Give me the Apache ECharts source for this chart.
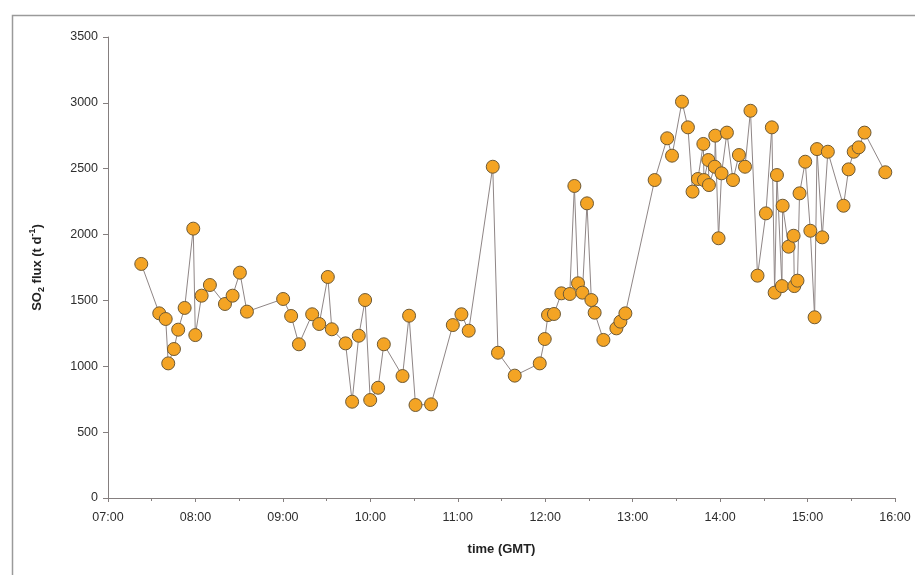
<!DOCTYPE html>
<html>
<head>
<meta charset="utf-8">
<script src="https://cdn.jsdelivr.net/npm/echarts@6/dist/echarts.min.js"></script>
<style>
  html, body { margin: 0; padding: 0; background: #fff; }
  #main { width: 915px; height: 575px; }
</style>
</head>
<body>
<div id="main"></div>
<script>
// measurement times (GMT) and SO2 flux (t/d)
var times = [
  '07:22:50', '07:35:10', '07:39:35', '07:41:20', '07:45:15', '07:48:10', '07:52:35', '07:58:30',
  '07:59:55', '08:04:15', '08:09:55', '08:20:15', '08:25:30', '08:30:30', '08:35:20', '09:00:10',
  '09:05:40', '09:11:00', '09:20:05', '09:24:55', '09:30:50', '09:33:35', '09:43:00', '09:47:30',
  '09:52:05', '09:56:25', '09:59:55', '10:05:20', '10:09:15', '10:22:05', '10:26:35', '10:31:00',
  '10:41:40', '10:56:35', '11:02:30', '11:07:30', '11:24:00', '11:27:35', '11:39:05', '11:56:15',
  '11:59:40', '12:01:55', '12:06:00', '12:11:05', '12:16:50', '12:20:00', '12:22:30', '12:25:30',
  '12:28:40', '12:31:40', '12:33:55', '12:39:55', '12:48:50', '12:51:35', '12:55:00', '13:15:05',
  '13:23:40', '13:27:00', '13:33:50', '13:37:55', '13:41:05', '13:44:45', '13:48:30', '13:48:55',
  '13:51:55', '13:52:20', '13:56:20', '13:56:40', '13:58:55', '14:01:00', '14:04:40', '14:08:50',
  '14:12:55', '14:17:05', '14:20:50', '14:25:40', '14:31:25', '14:35:30', '14:37:25', '14:39:00',
  '14:42:25', '14:42:55', '14:47:00', '14:50:25', '14:50:55', '14:53:05', '14:54:30', '14:58:25',
  '15:01:55', '15:04:50', '15:06:30', '15:10:05', '15:13:55', '15:24:40', '15:28:10', '15:31:40',
  '15:35:05', '15:39:05', '15:53:20'
];
var flux = [
  1777, 1402, 1359, 1022, 1131, 1278, 1443, 2045,
  1237, 1536, 1617, 1473, 1536, 1711, 1415, 1511,
  1382, 1167, 1395, 1321, 1678, 1281, 1174, 731,
  1232, 1503, 744, 837, 1167, 926, 1384, 706,
  711, 1313, 1395, 1270, 2515, 1103, 929, 1022,
  1207, 1389, 1397, 1554, 1549, 2369, 1630, 1559,
  2237, 1503, 1407, 1200, 1288, 1339, 1402, 2414,
  2731, 2599, 3009, 2814, 2326, 2422, 2688, 2414,
  2566, 2376, 2515, 2751, 1972, 2465, 2774, 2414,
  2604, 2515, 2940, 1688, 2161, 2814, 1559, 2452,
  1609, 2219, 1908, 1991, 1609, 1650, 2313, 2553,
  2029, 1372, 2649, 1979, 2629, 2219, 2495, 2629,
  2662, 2774, 2473
];

function toHours(s) {
  var p = s.split(':');
  return +p[0] + p[1] / 60 + p[2] / 3600;
}
function pad(n) { return (n < 10 ? '0' : '') + n; }

var points = times.map(function (t, i) { return [toHours(t), flux[i]]; });

var myChart = echarts.init(document.getElementById('main'));
var axisColor = '#857f7f';
var labelStyle = { color: '#2e2e2e', fontSize: 12.5, fontFamily: 'Liberation Sans' };

myChart.setOption({
    animation: false,
    backgroundColor: '#fff',
    graphic: [{
        type: 'rect',
        left: 10, top: 13,
        shape: { width: 915, height: 580 },
        style: { fill: 'none', stroke: '#9a9a9a', lineWidth: 1.5 }
    }],
    grid: { left: 108, right: 20, top: 37, bottom: 77 },
    xAxis: {
        type: 'value',
        min: 7, max: 16, interval: 1,
        name: 'time (GMT)',
        nameLocation: 'middle',
        nameGap: 45,
        nameTextStyle: { fontSize: 13, fontWeight: 'bold', color: '#222', fontFamily: 'Liberation Sans' },
        splitLine: { show: false },
        axisLine: { lineStyle: { color: axisColor, width: 1 } },
        axisTick: { length: 4, lineStyle: { color: axisColor } },
        minorTick: { show: true, splitNumber: 2, length: 3, lineStyle: { color: axisColor } },
        axisLabel: Object.assign({ margin: 13, formatter: function (v) { return pad(v) + ':00'; } }, labelStyle)
    },
    yAxis: {
        type: 'value',
        min: 0, max: 3500, interval: 500,
        name: '{a|SO}{s|2}{a| flux (t d}{u|-1}{a|)}',
        nameLocation: 'middle',
        nameGap: 62,
        nameRotate: 90,
        nameTextStyle: {
            rich: {
                a: { fontSize: 13, fontWeight: 'bold', color: '#222', fontFamily: 'Liberation Sans', lineHeight: 18, verticalAlign: 'middle' },
                s: { fontSize: 9, fontWeight: 'bold', color: '#222', fontFamily: 'Liberation Sans', lineHeight: 18, verticalAlign: 'bottom' },
                u: { fontSize: 9, fontWeight: 'bold', color: '#222', fontFamily: 'Liberation Sans', lineHeight: 18, verticalAlign: 'top' }
            }
        },
        splitLine: { show: false },
        axisLine: { show: true, lineStyle: { color: axisColor, width: 1 } },
        axisTick: { show: true, length: 5, lineStyle: { color: axisColor } },
        axisLabel: Object.assign({ margin: 10, formatter: function (v) { return String(v); } }, labelStyle)
    },
    series: [{
        type: 'line',
        data: points,
        symbol: 'circle',
        symbolSize: 13,
        lineStyle: { color: '#8f8686', width: 1 },
        itemStyle: { color: '#F4A424', borderColor: '#6e5a36', borderWidth: 1 }
    }]
});
</script>
</body>
</html>
